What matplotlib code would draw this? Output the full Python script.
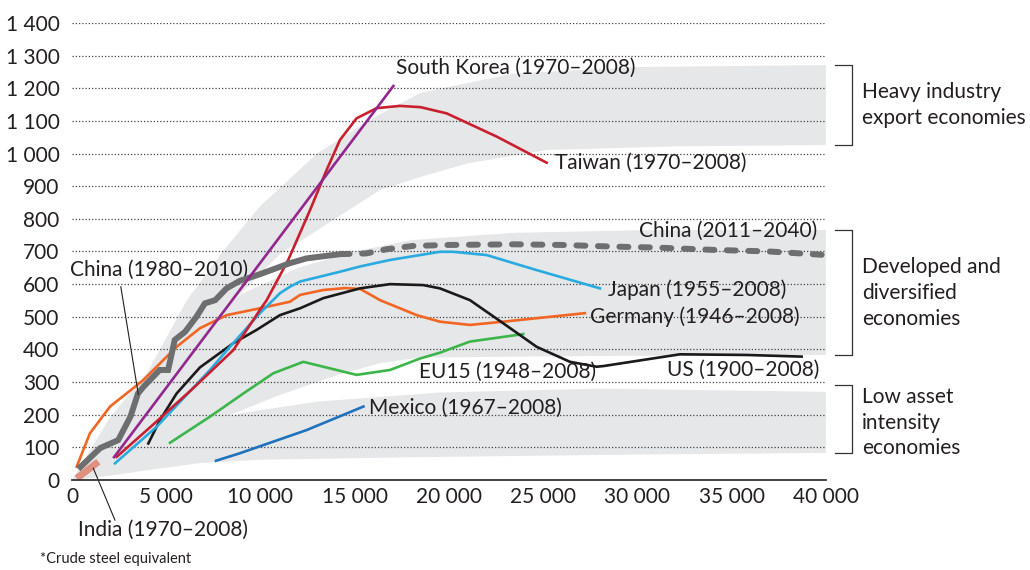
import numpy as np
import matplotlib.pyplot as plt

plt.rcParams['font.family'] = ['Lato', 'DejaVu Sans']

# %% data
xticks = [0, 5000, 10000, 15000, 20000, 25000, 30000, 35000, 40000]
xtick_labels = ['0', '5 000', '10 000', '15 000', '20 000', '25 000', '30 000', '35 000', '40 000']
yticks = [0, 100, 200, 300, 400, 500, 600, 700, 800, 900, 1000, 1100, 1200, 1300, 1400]
ytick_labels = ['0', '100', '200', '300', '400', '500', '600', '700', '800', '900',
                '1 000', '1 100', '1 200', '1 300', '1 400']

# grey bands: upper and lower edges
heavy_up_x = [0, 2000, 4000, 6100, 8000, 10000, 13000, 16000, 18500, 23400, 30000, 40000]
heavy_up_y = [0, 190, 330, 551, 700, 840, 1000, 1110, 1186, 1245, 1265, 1271]
heavy_lo_x = [0, 3000, 6000, 8600, 11000, 13850, 16340, 18460, 21000, 25200, 32000, 40000]
heavy_lo_y = [0, 190, 390, 551, 690, 796, 888, 928, 970, 1011, 1022, 1026]

dev_up_x = [0, 3000, 6000, 9000, 12000, 15000, 18000, 23400, 30000, 40000]
dev_up_y = [0, 250, 440, 570, 650, 700, 735, 757, 765, 766]
dev_lo_x = [0, 3000, 5000, 8000, 11000, 14000, 16340, 18460, 28000, 40000]
dev_lo_y = [0, 70, 113, 190, 260, 320, 358, 375, 380, 383]

low_up_x = [0, 2000, 5000, 8900, 13000, 19500, 28000, 40000]
low_up_y = [0, 80, 150, 204, 240, 268, 280, 270]
low_lo_x = [0, 1500, 4000, 6800, 10000, 18460, 30000, 40000]
low_lo_y = [0, 9, 30, 52, 62, 70, 78, 83]

# country paths
china_x = [450, 1500, 2450, 3100, 3500, 3800, 4650, 5100, 5450, 6000, 6600, 7050, 7600,
           8200, 8900, 9950, 11550, 12450, 14250]
china_y = [40, 98, 122, 194, 265, 286, 337, 337, 429, 454, 500, 541, 551,
           587, 610, 630, 664, 679, 692]
china_proj_x = [14250, 15600, 16700, 18100, 20000, 23400, 26000, 28700, 31000, 34000, 37000, 40000]
china_proj_y = [692, 694, 707, 717, 720, 722, 720, 715, 712, 705, 700, 689]

korea_x = [2230, 17050]
korea_y = [70, 1207]

taiwan_x = [2370, 4310, 6500, 8560, 9970, 10330, 11470, 12630, 13510, 14220, 15100, 16160,
            17400, 18500, 19880, 22530, 25180]
taiwan_y = [71, 170, 285, 398, 521, 551, 674, 827, 950, 1042, 1108, 1139,
            1146, 1142, 1123, 1052, 972]

japan_x = [2280, 4490, 7320, 8380, 9970, 11030, 11560, 12100, 14220, 15280, 16870, 19520,
           20230, 22000, 24650, 28010]
japan_y = [51, 163, 337, 408, 511, 572, 592, 608, 638, 654, 674, 699,
           699, 689, 643, 587]

germany_x = [250, 950, 2020, 3780, 5550, 6790, 8210, 9970, 11560, 12100, 13330, 14500,
             15300, 16340, 18290, 19520, 21110, 22880, 27210]
germany_y = [41, 143, 225, 306, 408, 465, 505, 526, 546, 567, 582, 588,
             585, 551, 505, 485, 475, 485, 511]

us_x = [4050, 4670, 5550, 6790, 8560, 9800, 11030, 12100, 13330, 15280, 16870, 18640, 19520,
        21110, 22880, 24650, 26420, 27830, 28190, 32250, 35790, 38710]
us_y = [112, 184, 265, 345, 419, 460, 505, 526, 557, 587, 600, 597, 587,
        551, 480, 408, 362, 347, 349, 385, 383, 378]

eu_x = [5200, 7320, 9090, 10680, 12270, 13330, 15100, 16870, 18460, 19520, 21110, 23940]
eu_y = [114, 194, 265, 327, 362, 347, 322, 337, 372, 390, 424, 447]

mexico_x = [7640, 8910, 12450, 15460]
mexico_y = [59, 82, 153, 225]

india_x = [250, 1400]
india_y = [5, 56]

# bracket groups: (bottom, top, label, label y)
groups = [(1026, 1271, 'Heavy industry\nexport economies', 1149),
          (383, 766, 'Developed and\ndiversified\neconomies', 573),
          (82, 291, 'Low asset\nintensity\neconomies', 175)]

# %% plot
txt = '#231f20'
band = '#e6e7e8'

fig = plt.figure(figsize=(10.3, 5.7), dpi=100)
ax = fig.add_axes([0.0699, 0.1579, 0.7320, 0.8018])

for ux, uy, lx, ly in [(heavy_up_x, heavy_up_y, heavy_lo_x, heavy_lo_y),
                       (dev_up_x, dev_up_y, dev_lo_x, dev_lo_y),
                       (low_up_x, low_up_y, low_lo_x, low_lo_y)]:
    ax.fill(np.concatenate([ux, lx[::-1]]), np.concatenate([uy, ly[::-1]]),
            color=band, lw=0, zorder=0)

for y in yticks[1:]:
    ax.axhline(y, color='#444444', lw=0.9, ls=(0, (1, 1.6)), zorder=1)

lw = 1.9
ax.plot(india_x, india_y, color='#e0907f', lw=5, solid_capstyle='butt', zorder=3)
ax.plot(mexico_x, mexico_y, color='#1f72bd', lw=lw, zorder=3)
ax.plot(eu_x, eu_y, color='#3cb54a', lw=lw, zorder=3)
ax.plot(germany_x, germany_y, color='#f26522', lw=lw, zorder=3)
ax.plot(us_x, us_y, color='#1a1a1a', lw=lw, zorder=3)
ax.plot(japan_x, japan_y, color='#29aae1', lw=lw, zorder=3)
ax.plot(taiwan_x, taiwan_y, color='#c9202f', lw=lw, zorder=3)
ax.plot(china_x, china_y, color='#6d6e70', lw=4.3, solid_joinstyle='miter', zorder=4)
ax.plot(china_proj_x, china_proj_y, color='#6d6e70', lw=4.3,
        ls=(0, (1.5, 2.1)), dash_capstyle='round', zorder=4)
ax.plot(korea_x, korea_y, color='#92278f', lw=lw, zorder=5)

# labels
fs = 15
ax.text(17190, 1262, 'South Korea (1970–2008)', fontsize=fs, color=txt, va='center')
ax.text(25620, 971, 'Taiwan (1970–2008)', fontsize=fs, color=txt, va='center')
ax.text(39520, 763, 'China (2011–2040)', fontsize=fs, color=txt, va='center', ha='right')
ax.text(28430, 582, 'Japan (1955–2008)', fontsize=fs, color=txt, va='center')
ax.text(27480, 499, 'Germany (1946–2008)', fontsize=fs, color=txt, va='center')
ax.text(18410, 331, 'EU15 (1948–2008)', fontsize=fs, color=txt, va='center')
ax.text(31560, 337, 'US (1900–2008)', fontsize=fs, color=txt, va='center')
ax.text(15760, 221, 'Mexico (1967–2008)', fontsize=fs, color=txt, va='center')
ax.text(-100, 643, 'China (1980–2010)', fontsize=fs, color=txt, va='center')
ax.plot([2590, 3520], [592, 262], color=txt, lw=0.8, zorder=6)
ax.text(320, -153, 'India (1970–2008)', fontsize=fs, color=txt, va='center')
ax.plot([1130, 2280], [36, -123], color=txt, lw=0.8, zorder=6, clip_on=False)

# brackets on the right
for lo, hi, label, ly in groups:
    ax.plot([40477, 41380, 41380, 40477], [hi, hi, lo, lo], color='#333333', lw=0.9,
            clip_on=False)
    ax.text(41910, ly, label, fontsize=fs, color=txt, va='center', linespacing=1.35)

fig.text(0.039, 0.012, '*Crude steel equivalent', fontsize=10.5, color=txt)

ax.set_xlim(0, 40000)
ax.set_ylim(0, 1400)
ax.set_xticks(xticks, xtick_labels)
ax.set_yticks(yticks, ytick_labels)
ax.tick_params(length=0, labelsize=fs, colors=txt)
ax.tick_params(axis='y', pad=9)
ax.tick_params(axis='x', pad=5)
for s in ['top', 'right', 'left']:
    ax.spines[s].set_visible(False)
ax.spines['bottom'].set_color('#333333')
ax.spines['bottom'].set_linewidth(1.3)
ax.spines['bottom'].set_zorder(6)

fig.savefig('out.png', dpi=100)
